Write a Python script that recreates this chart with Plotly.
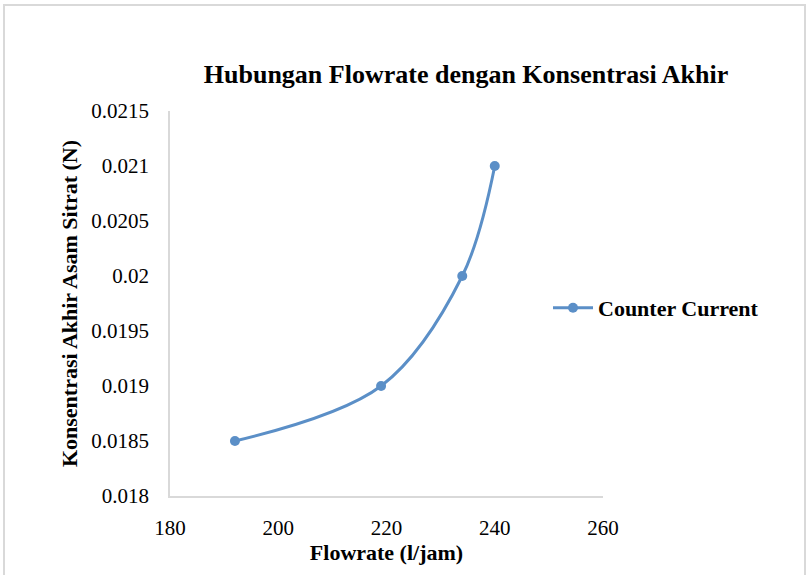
import plotly.graph_objects as go

flowrate = [192, 219, 234, 240]
konsentrasi = [0.0185, 0.019, 0.020, 0.021]
series_name = "Counter Current"
x_ticks = [180, 200, 220, 240, 260]
y_ticks = [0.018, 0.0185, 0.019, 0.0195, 0.02, 0.0205, 0.021, 0.0215]
y_labels = ["0.018", "0.0185", "0.019", "0.0195", "0.02", "0.0205", "0.021", "0.0215"]

W, H = 811, 575
L, R, T, B = 170, 208, 111, 79
pw, ph = W - L - R, H - T - B

font_family = "Liberation Serif, Times New Roman, serif"
blue = "#5b8fc7"

fig = go.Figure()
fig.add_trace(go.Scatter(
    x=flowrate, y=konsentrasi, name=series_name,
    mode="lines+markers",
    line=dict(color=blue, width=3, shape="spline", smoothing=1.0),
    marker=dict(color=blue, size=10),
))

def px_x(p):
    return (p - L) / pw

def px_y(p):
    return (H - B - p) / ph

fig.add_shape(type="rect", xref="paper", yref="paper",
              x0=px_x(4), x1=px_x(805), y0=px_y(576), y1=px_y(5),
              line=dict(color="#d9d9d9", width=2), layer="below")

fig.update_layout(
    width=W, height=H,
    margin=dict(l=L, r=R, t=T, b=B, autoexpand=False),
    paper_bgcolor="white", plot_bgcolor="white",
    font=dict(family=font_family, color="black", size=21),
    title=dict(text="<b>Hubungan Flowrate dengan Konsentrasi Akhir</b>",
               x=px_x(466), xref="paper", xanchor="center",
               y=1 - 74 / H, yanchor="middle",
               font=dict(size=26, family=font_family, color="black")),
    showlegend=True,
    legend=dict(x=px_x(548), y=px_y(308), xanchor="left", yanchor="middle",
                font=dict(size=22, family=font_family, color="black"),
                bgcolor="rgba(0,0,0,0)", itemwidth=40),
    xaxis=dict(range=[180, 260], tickvals=x_ticks,
               showgrid=False, zeroline=False,
               showline=True, linecolor="#d9d9d9", linewidth=1.5,
               ticks="", ticklabelstandoff=12,
               tickfont=dict(size=21, family=font_family),
               title=dict(text="<b>Flowrate (l/jam)</b>", standoff=6,
                          font=dict(size=22, family=font_family))),
    yaxis=dict(range=[0.018, 0.0215], tickvals=y_ticks, ticktext=y_labels,
               showgrid=False, zeroline=False,
               showline=True, linecolor="#d9d9d9", linewidth=1.5,
               ticks="", ticklabelstandoff=15,
               tickfont=dict(size=21, family=font_family),
               title=dict(text="<b>Konsentrasi Akhir Asam Sitrat (N)</b>", standoff=8,
                          font=dict(size=22, family=font_family))),
)
fig.update_traces(legendgroup="a")
fig.data[0].update(name="<b>" + series_name + "</b>")

fig.write_html("out.html")
